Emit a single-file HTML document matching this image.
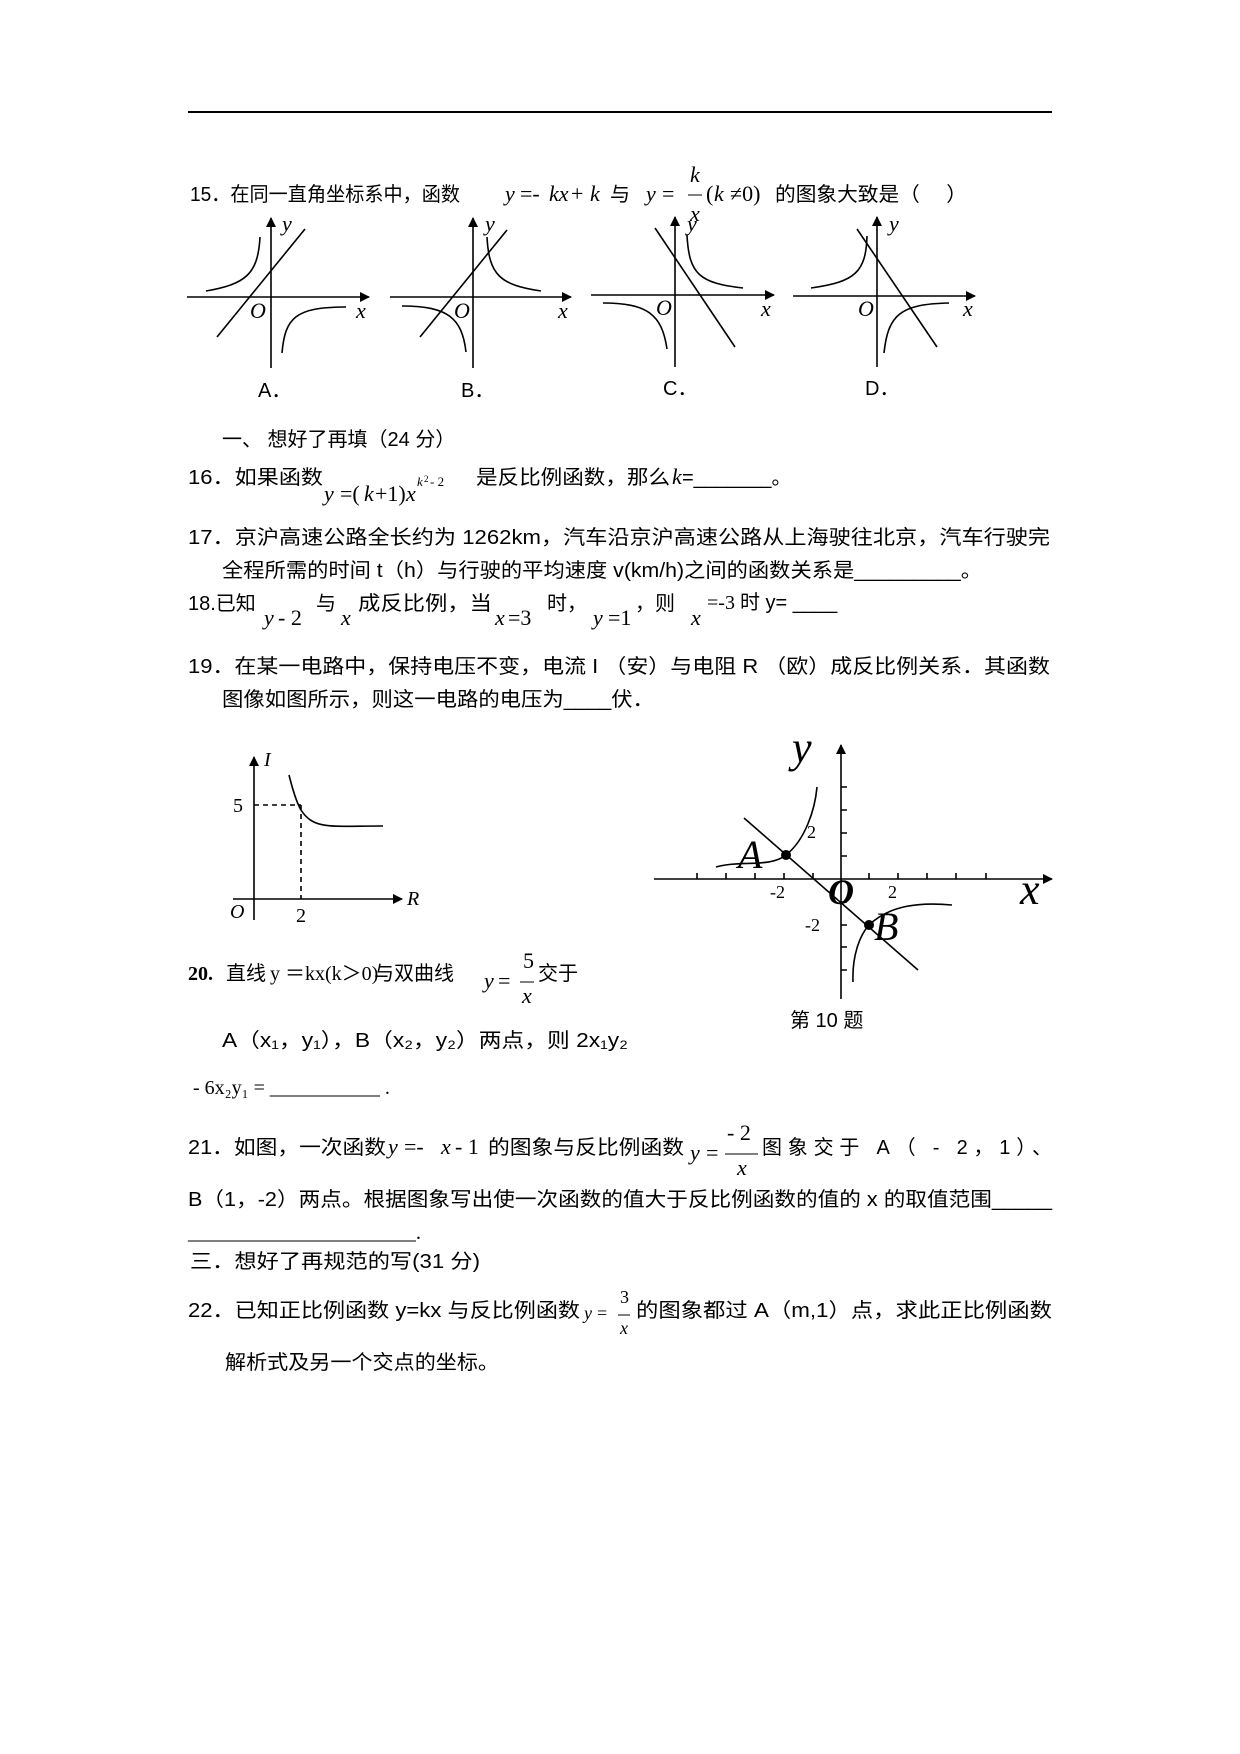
<!DOCTYPE html>
<html><head><meta charset="utf-8"><style>
html,body{margin:0;padding:0;background:#fff}
svg{display:block}
text{font-family:"Liberation Sans","Noto Sans CJK SC",sans-serif;font-size:20px;fill:#000}
.s{font-family:"Liberation Serif","Noto Sans CJK SC",serif;font-size:22px}
.i{font-family:"Liberation Serif",serif;font-style:italic;font-size:22px}
</style></head><body>
<svg width="1240" height="1754" viewBox="0 0 1240 1754" xmlns="http://www.w3.org/2000/svg">
<defs><marker id="ar" markerWidth="10" markerHeight="10" refX="9" refY="5" orient="auto" markerUnits="userSpaceOnUse"><path d="M0,0 L10,5 L0,10 z" fill="#000"/></marker></defs>
<line x1="188" y1="112" x2="1052" y2="112" stroke="#000" stroke-width="2"/>

<!-- Q15 -->
<text x="190" y="201" textLength="270" lengthAdjust="spacingAndGlyphs">15．在同一直角坐标系中，函数</text>
<text x="505" y="201" class="i">y</text><text x="520" y="201" class="s">=-</text><text x="549" y="201" class="i">kx</text><text x="571" y="201" class="s">+</text><text x="590" y="201" class="i">k</text>
<text x="610" y="201">与</text>
<text x="646" y="201" class="i">y</text><text x="662" y="201" class="s">=</text>
<text x="690" y="182" class="i">k</text><line x1="688" y1="195" x2="702" y2="195" stroke="#000" stroke-width="1"/><text x="690" y="221" class="i">x</text>
<text x="706" y="201" class="s">(</text><text x="714" y="201" class="i">k</text><text x="730" y="201" class="s">≠0)</text>
<text x="775" y="201" textLength="192" lengthAdjust="spacingAndGlyphs">的图象大致是（　 ）</text>

<g stroke="#000" stroke-width="1.6" fill="none">
<line x1="187" y1="297" x2="369" y2="297" marker-end="url(#ar)"/>
<line x1="271" y1="368" x2="271" y2="218" marker-end="url(#ar)"/>
<line x1="217" y1="337" x2="305" y2="229"/>
<path d="M206,291 C245,284 258,275 260,237"/>
<path d="M282,353 C285,318 295,307 346,307"/>
<line x1="390" y1="297" x2="571" y2="297" marker-end="url(#ar)"/>
<line x1="473" y1="368" x2="473" y2="218" marker-end="url(#ar)"/>
<line x1="420" y1="337" x2="507" y2="230"/>
<path d="M487,237 C489,275 500,285 541,291"/>
<path d="M402,306 C448,306 462,318 466,352"/>
<line x1="591" y1="295" x2="774" y2="295" marker-end="url(#ar)"/>
<line x1="675" y1="367" x2="675" y2="217" marker-end="url(#ar)"/>
<line x1="655" y1="228" x2="735" y2="347"/>
<path d="M687,235 C689,275 700,283 743,288"/>
<path d="M603,303 C648,303 662,315 667,349"/>
<line x1="793" y1="296" x2="975" y2="296" marker-end="url(#ar)"/>
<line x1="877" y1="367" x2="877" y2="217" marker-end="url(#ar)"/>
<line x1="857" y1="229" x2="937" y2="347"/>
<path d="M811,288 C855,282 866,272 867,236"/>
<path d="M884,353 C888,315 900,304 949,303"/>
</g>
<text x="250" y="318" class="i">O</text><text x="356" y="318" class="i">x</text><text x="282" y="231" class="i">y</text>
<text x="454" y="318" class="i">O</text><text x="558" y="318" class="i">x</text><text x="485" y="231" class="i">y</text>
<text x="656" y="315" class="i">O</text><text x="761" y="316" class="i">x</text><text x="687" y="231" class="i">y</text>
<text x="858" y="316" class="i">O</text><text x="963" y="316" class="i">x</text><text x="889" y="231" class="i">y</text>
<text x="258" y="397">A．</text><text x="461" y="397">B．</text><text x="663" y="395">C．</text><text x="865" y="395">D．</text>

<text x="222" y="446">一、 想好了再填（24 分）</text>

<!-- Q16 -->
<text x="188" y="484" textLength="135" lengthAdjust="spacingAndGlyphs">16．如果函数</text>
<text x="324" y="501" class="i">y</text><text x="340" y="501" class="s">=(</text><text x="364" y="501" class="i">k</text><text x="375" y="501" class="s">+1)</text><text x="406" y="501" class="i">x</text>
<text x="417" y="486" class="i" style="font-size:13px">k</text><text x="424" y="482" class="s" style="font-size:9px">2</text><text x="430" y="486" class="s" style="font-size:13px">- 2</text>
<text x="476" y="484" textLength="194" lengthAdjust="spacingAndGlyphs">是反比例函数，那么</text>
<text x="672" y="484" class="i">k</text><text x="682" y="484">=_______。</text>

<!-- Q17 -->
<text x="188" y="544" textLength="862" lengthAdjust="spacingAndGlyphs">17．京沪高速公路全长约为 1262km，汽车沿京沪高速公路从上海驶往北京，汽车行驶完</text>
<text x="222" y="577" textLength="760" lengthAdjust="spacingAndGlyphs">全程所需的时间 t（h）与行驶的平均速度 v(km/h)之间的函数关系是_________。</text>

<!-- Q18 -->
<text x="188" y="610">18.已知</text>
<text x="264" y="625" class="i">y</text><text x="278" y="625" class="s">- 2</text>
<text x="316" y="610">与</text><text x="341" y="625" class="i">x</text>
<text x="358" y="610" textLength="134" lengthAdjust="spacingAndGlyphs">成反比例，当</text>
<text x="495" y="625" class="i">x</text><text x="508" y="625" class="s">=3</text>
<text x="547" y="610">时，</text>
<text x="593" y="625" class="i">y</text><text x="608" y="625" class="s">=1</text>
<text x="635" y="610">，则</text>
<text x="691" y="625" class="i">x</text>
<text x="707" y="609" class="s" style="font-size:20px">=-3</text><text x="740" y="609">时 y= ____</text>

<!-- Q19 -->
<text x="188" y="673" textLength="862" lengthAdjust="spacingAndGlyphs">19．在某一电路中，保持电压不变，电流 I （安）与电阻 R （欧）成反比例关系．其函数</text>
<text x="222" y="706" textLength="432" lengthAdjust="spacingAndGlyphs">图像如图所示，则这一电路的电压为____伏．</text>

<!-- small chart -->
<g stroke="#000" stroke-width="1.6" fill="none">
<line x1="254" y1="920" x2="254" y2="757" marker-end="url(#ar)"/>
<line x1="233" y1="899" x2="402" y2="899" marker-end="url(#ar)"/>
<path d="M289,775 C294,795 298,805 301,810 C314,830 330,826 383,826"/>
<line x1="254" y1="805" x2="301" y2="805" stroke-dasharray="5,4"/>
<line x1="301" y1="805" x2="301" y2="899" stroke-dasharray="5,4"/>
</g>
<text x="264" y="766" class="i" style="font-size:20px">I</text><text x="233" y="812" class="s" style="font-size:20px">5</text><text x="230" y="918" class="i" style="font-size:20px">O</text><text x="296" y="922" class="s" style="font-size:20px">2</text><text x="407" y="905" class="i" style="font-size:20px">R</text>

<!-- right chart -->
<g stroke="#000" stroke-width="1.6" fill="none">
<line x1="841" y1="999" x2="841" y2="745" marker-end="url(#ar)"/>
<line x1="654" y1="879" x2="1052" y2="879" marker-end="url(#ar)"/>
<path d="M697,879v-6M726,879v-6M755,879v-6M784,879v-6M813,879v-6M869,879v-6M898,879v-6M927,879v-6M956,879v-6M986,879v-6"/>
<path d="M841,787h6M841,810h6M841,833h6M841,856h6M841,902h6M841,925h6M841,947h6M841,970h6"/>
<line x1="744" y1="818" x2="918" y2="970"/>
<path d="M716,867 C740,860 770,868 786,855 C805,840 815,810 817,787"/>
<path d="M853,982 C852,955 860,935 869,925 C890,905 920,902 952,905"/>
</g>
<circle cx="786" cy="855" r="5"/><circle cx="869" cy="925" r="5"/>
<text x="792" y="762" class="i" style="font-size:44px">y</text>
<text x="1020" y="904" class="i" style="font-size:44px">x</text>
<text x="828" y="904" class="i" style="font-size:36px;font-weight:bold">O</text>
<text x="738" y="868" class="i" style="font-size:40px">A</text>
<text x="874" y="940" class="i" style="font-size:40px">B</text>
<text x="807" y="838" class="s" style="font-size:18px">2</text>
<text x="770" y="898" class="s" style="font-size:18px">-2</text>
<text x="888" y="898" class="s" style="font-size:18px">2</text>
<text x="805" y="931" class="s" style="font-size:18px">-2</text>
<text x="790" y="1027">第 10 题</text>

<!-- Q20 -->
<text x="188" y="980" style="font-weight:bold;font-size:20px" class="s">20.</text>
<text x="226" y="980">直线</text>
<text x="270" y="980" class="s" style="font-size:20px">y ＝kx(k＞0)</text>
<text x="374" y="980">与双曲线</text>
<text x="484" y="988" class="i">y</text><text x="498" y="988" class="s">=</text>
<text x="523" y="968" class="s">5</text><line x1="520" y1="982" x2="534" y2="982" stroke="#000"/><text x="522" y="1003" class="i">x</text>
<text x="538" y="980">交于</text>
<text x="222" y="1047" textLength="406" lengthAdjust="spacingAndGlyphs">A（x₁，y₁），B（x₂，y₂）两点，则 2x₁y₂</text>
<text x="193" y="1094" class="s" style="font-size:20px">- 6x₂y₁ = ___________ .</text>

<!-- Q21 -->
<text x="188" y="1154" textLength="198" lengthAdjust="spacingAndGlyphs">21．如图，一次函数</text>
<text x="388" y="1154" class="i">y</text><text x="404" y="1154" class="s">=- </text><text x="441" y="1154" class="i">x</text><text x="455" y="1154" class="s">- 1</text>
<text x="488" y="1154" textLength="196" lengthAdjust="spacingAndGlyphs">的图象与反比例函数</text>
<text x="690" y="1160" class="i">y</text><text x="706" y="1160" class="s">=</text>
<text x="727" y="1140" class="s">- 2</text><line x1="725" y1="1154" x2="758" y2="1154" stroke="#000"/><text x="737" y="1175" class="i">x</text>
<text x="762" y="1154" textLength="290" lengthAdjust="spacing">图象交于 A（ - 2，1）、</text>
<text x="188" y="1206" textLength="864" lengthAdjust="spacingAndGlyphs">B（1，-2）两点。根据图象写出使一次函数的值大于反比例函数的值的 x 的取值范围_____</text>
<text x="188" y="1239" class="s" style="font-size:20px" textLength="233" lengthAdjust="spacingAndGlyphs">______________________.</text>

<text x="190" y="1268" textLength="290" lengthAdjust="spacingAndGlyphs">三．想好了再规范的写(31 分)</text>

<!-- Q22 -->
<text x="188" y="1317" textLength="392" lengthAdjust="spacingAndGlyphs">22．已知正比例函数 y=kx 与反比例函数</text>
<text x="584" y="1319" class="i" style="font-size:18px">y</text><text x="597" y="1319" class="s" style="font-size:18px">=</text>
<text x="620" y="1303" class="s" style="font-size:18px">3</text><line x1="618" y1="1315" x2="630" y2="1315" stroke="#000"/><text x="620" y="1334" class="i" style="font-size:18px">x</text>
<text x="636" y="1317" textLength="416" lengthAdjust="spacingAndGlyphs">的图象都过 A（m,1）点，求此正比例函数</text>
<text x="225" y="1369" textLength="274" lengthAdjust="spacingAndGlyphs">解析式及另一个交点的坐标。</text>
</svg>
</body></html>
